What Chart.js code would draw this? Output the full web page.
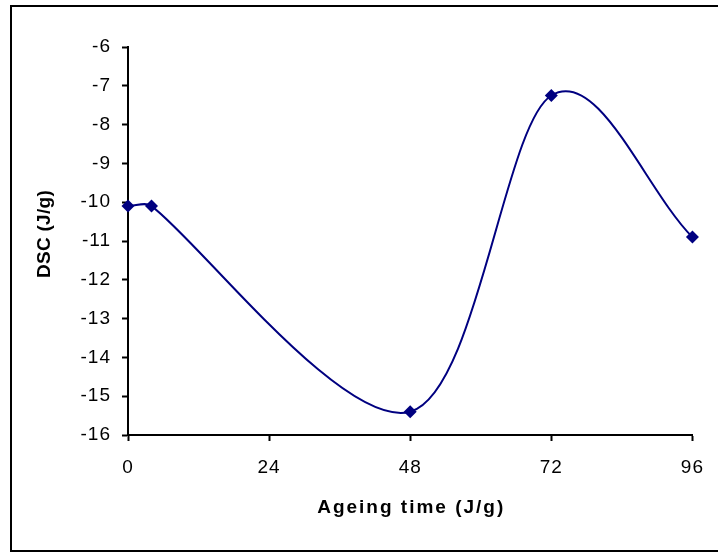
<!DOCTYPE html>
<html>
<head>
<meta charset="utf-8">
<script src="https://cdn.jsdelivr.net/npm/chart.js@4/dist/chart.umd.min.js"></script>
<style>
html,body{margin:0;padding:0;background:#fff;}
#wrap{width:718px;height:552px;position:relative;}
</style>
</head>
<body>
<div id="wrap"><canvas id="c" width="718" height="552"></canvas></div>
<script>
const ageingTimes = [0, 4, 48, 72, 96];
const dscValues = [-10.1, -10.1, -15.4, -7.25, -10.9];
const xTitle = 'Ageing time (J/g)';
const yTitle = 'DSC (J/g)';
const xTicks = [0, 24, 48, 72, 96];
const yMin = -16, yMax = -6;

const points = ageingTimes.map((t, i) => ({x: t, y: dscValues[i]}));
const FAM = 'Liberation Sans, Arial, sans-serif';

// Excel-style smoothing: tangent = (next - prev)/6, shortened near short segments
const excelSmooth = {
  id: 'excelSmooth',
  beforeDatasetsDraw(chart) {
    const meta = chart.getDatasetMeta(0);
    const p = meta.data;
    const n = p.length;
    const dist = (a, b) => Math.hypot(a.x - b.x, a.y - b.y);
    for (let i = 0; i < n; i++) {
      const cur = p[i];
      if (i === 0 || i === n - 1) {
        const other = i === 0 ? p[1] : p[n - 2];
        const cx = cur.x + (other.x - cur.x) / 3;
        const cy = cur.y + (other.y - cur.y) / 3;
        cur.cp1x = cur.cp2x = cx;
        cur.cp1y = cur.cp2y = cy;
        continue;
      }
      const prev = p[i - 1], next = p[i + 1];
      const tx = (next.x - prev.x) / 6, ty = (next.y - prev.y) / 6;
      const tl = Math.hypot(tx, ty) || 1;
      const sPrev = Math.min(1, dist(cur, prev) / 3 / tl);
      const sNext = Math.min(1, dist(cur, next) / 3 / tl);
      cur.cp1x = cur.x - tx * sPrev; cur.cp1y = cur.y - ty * sPrev;
      cur.cp2x = cur.x + tx * sNext; cur.cp2y = cur.y + ty * sNext;
    }
    if (meta.dataset) meta.dataset._pointsUpdated = true;
  }
};

const frame = {
  id: 'frame',
  beforeDraw(chart) {
    chart.ctx.letterSpacing = '1px';
  },
  afterDraw(chart) {
    const ctx = chart.ctx;
    ctx.letterSpacing = '0px';
    ctx.save();
    ctx.strokeStyle = '#000';
    ctx.lineWidth = 2;
    ctx.strokeRect(11, 6, 800, 545);
    ctx.fillStyle = '#000';
    ctx.font = 'bold 19px ' + FAM;
    ctx.textAlign = 'center';
    ctx.textBaseline = 'middle';
    ctx.letterSpacing = '2px';
    const xa = chart.scales.x;
    ctx.fillText(xTitle, (xa.left + xa.right) / 2 + 1, 508);
    ctx.letterSpacing = '0.3px';
    const ya = chart.scales.y;
    ctx.translate(45, (ya.top + ya.bottom) / 2 - 7);
    ctx.rotate(-Math.PI / 2);
    ctx.fillText(yTitle, 0, 0);
    ctx.restore();
    ctx.letterSpacing = '0px';
  }
};

const font = {family: FAM, size: 19};
new Chart(document.getElementById('c'), {
  type: 'line',
  data: {
    datasets: [{
      data: points,
      borderColor: '#000080',
      backgroundColor: '#000080',
      borderWidth: 2,
      tension: 0.4,
      clip: false,
      pointStyle: 'rectRot',
      pointRadius: 6.5,
      pointBorderWidth: 0,
      fill: false
    }]
  },
  options: {
    responsive: false,
    animation: false,
    devicePixelRatio: 1,
    layout: {padding: {left: 0, top: 47, right: 23, bottom: 0}},
    plugins: {legend: {display: false}, tooltip: {enabled: false}},
    scales: {
      x: {
        type: 'linear',
        min: 0, max: 96,
        afterBuildTicks(s) { s.ticks = xTicks.map(v => ({value: v})); },
        afterFit(s) { s.height = 117; },
        grid: {drawOnChartArea: false, tickLength: 6, tickWidth: 2, color: '#000'},
        border: {color: '#000', width: 2},
        ticks: {color: '#000', font: font, padding: 15, maxRotation: 0},
        title: {display: false}
      },
      y: {
        min: yMin, max: yMax,
        afterFit(s) { s.width = 128; },
        grid: {drawOnChartArea: false, tickLength: 6, tickWidth: 2, color: '#000'},
        border: {color: '#000', width: 2},
        ticks: {stepSize: 1, color: '#000', font: font, padding: 11},
        title: {display: false}
      }
    }
  },
  plugins: [excelSmooth, frame]
});
</script>
</body>
</html>
